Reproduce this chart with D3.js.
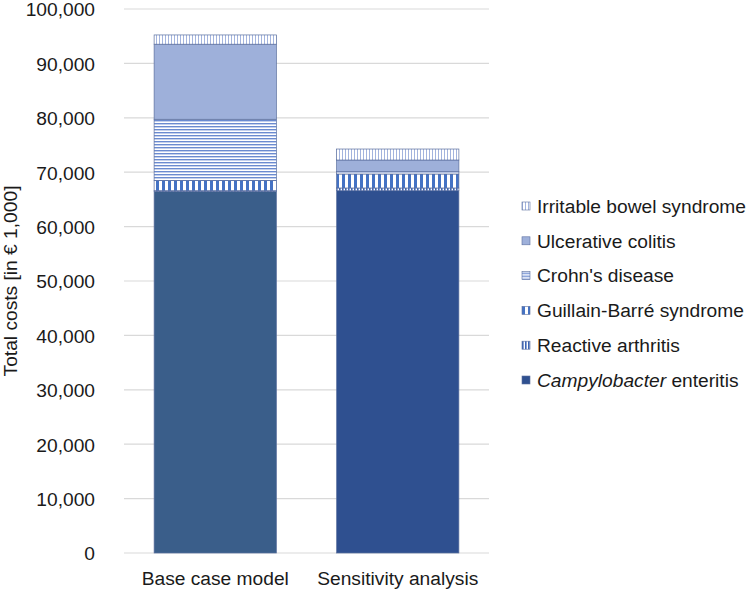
<!DOCTYPE html>
<html>
<head>
<meta charset="utf-8">
<script src="https://cdn.jsdelivr.net/npm/d3@7"></script>
<style>
  body { margin: 0; background: #fff; }
  text { font-family: "Liberation Sans", Arial, sans-serif; fill: #1a1a1a; }
</style>
</head>
<body>
<div id="chart"></div>
<script>
// Categories and series (values in € 1,000)
const scenarios = ["Base case model", "Sensitivity analysis"];
const diseases = ["Campylobacter enteritis", "Reactive arthritis", "Guillain-Barré syndrome",
                  "Crohn's disease", "Ulcerative colitis", "Irritable bowel syndrome"];
const campylobacter = [66500, 66600];
const reactiveArthritis = [100, 500];
const guillainBarre = [1850, 2570];
const crohns = [11280, 420];
const ulcerativeColitis = [13800, 2150];
const ibs = [1700, 2020];
const yTicks = [0, 10000, 20000, 30000, 40000, 50000, 60000, 70000, 80000, 90000, 100000];

const series = [campylobacter, reactiveArthritis, guillainBarre, crohns, ulcerativeColitis, ibs];
const table = scenarios.map((s, i) => {
    const row = {scenario: s};
    diseases.forEach((d, j) => row[d] = series[j][i]);
    return row;
});

// Dimensions
const W = 750, H = 589;
const margin = {top: 9, left: 124, plotRight: 489, bottom: 553};
const fontSize = "19.2px";

const svg = d3.select("#chart").append("svg")
    .attr("width", W)
    .attr("height", H);

// Patterns
const defs = svg.append("defs");
function stripes(id, w, h, bg, rects) {
    const p = defs.append("pattern")
        .attr("id", id)
        .attr("patternUnits", "userSpaceOnUse")
        .attr("width", w)
        .attr("height", h);
    p.append("rect").attr("width", w).attr("height", h).attr("fill", bg);
    rects.forEach(r => p.append("rect")
        .attr("x", r[0]).attr("y", r[1]).attr("width", r[2]).attr("height", r[3]).attr("fill", r[4]));
}
stripes("pRA", 3, 3, "#ffffff", [[0, 0, 1.6, 3, "#3c64b4"]]);
stripes("pGBS", 6, 6, "#ffffff", [[0, 0, 3, 6, "#4472c4"]]);
stripes("pCD", 3, 3, "#ffffff", [[0, 0, 3, 1.4, "#6b8bd0"]]);
stripes("pIBS", 3, 3, "#ffffff", [[0, 0, 1, 3, "#a3b4de"]]);

const fills = {
    "Campylobacter enteritis": "#2f5090",
    "Reactive arthritis": "url(#pRA)",
    "Guillain-Barré syndrome": "url(#pGBS)",
    "Crohn's disease": "url(#pCD)",
    "Ulcerative colitis": "#9eb0da",
    "Irritable bowel syndrome": "url(#pIBS)"
};
const baseCampyColor = "#3a5e8a";

// Scales
const x = d3.scaleBand()
    .domain(scenarios)
    .range([margin.left, margin.plotRight])
    .paddingInner(0.33)
    .paddingOuter(0.165);

const y = d3.scaleLinear()
    .domain([0, 100000])
    .range([margin.bottom, margin.top]);

// Gridlines
svg.append("g")
    .selectAll("line")
    .data(yTicks)
    .enter()
    .append("line")
    .attr("x1", margin.left)
    .attr("x2", margin.plotRight)
    .attr("y1", d => y(d))
    .attr("y2", d => y(d))
    .attr("stroke", "#d9d9d9")
    .attr("stroke-width", 1.2);

// Y axis labels
const yAxis = svg.append("g")
    .attr("transform", `translate(${margin.left},0)`)
    .call(d3.axisLeft(y).tickValues(yTicks).tickFormat(d3.format(",")).tickSize(0).tickPadding(29));
yAxis.select(".domain").remove();
yAxis.selectAll("text")
    .attr("dy", "0.36em")
    .style("font-size", fontSize)
    .style("font-family", "Liberation Sans, Arial, sans-serif")
    .attr("fill", "#1a1a1a");

// Stacked bars
const stack = d3.stack().keys(diseases)(table);

svg.append("g")
    .selectAll("g")
    .data(stack)
    .enter()
    .append("g")
    .selectAll("rect")
    .data(d => d.map(v => ({key: d.key, v: v})))
    .enter()
    .append("rect")
    .attr("x", d => x(d.v.data.scenario))
    .attr("width", x.bandwidth())
    .attr("y", d => y(d.v[1]))
    .attr("height", d => y(d.v[0]) - y(d.v[1]))
    .attr("fill", d => (d.key === diseases[0] && d.v.data.scenario === scenarios[0]) ? baseCampyColor : fills[d.key])
    .attr("stroke", "#5b6f9f")
    .attr("stroke-width", 0.7);

// X axis labels
const xAxis = svg.append("g")
    .attr("transform", `translate(0,${margin.bottom})`)
    .call(d3.axisBottom(x).tickSize(0).tickPadding(18));
xAxis.select(".domain").remove();
xAxis.selectAll("text")
    .style("font-size", fontSize)
    .style("font-family", "Liberation Sans, Arial, sans-serif")
    .attr("fill", "#1a1a1a");

// Y axis title
svg.append("text")
    .attr("transform", "rotate(-90)")
    .attr("x", -(margin.top + margin.bottom) / 2)
    .attr("y", 17)
    .style("text-anchor", "middle")
    .style("font-size", fontSize)
    .text("Total costs [in € 1,000]");

// Legend (reverse order like the source)
const legendItems = diseases.slice().reverse();
const legend = svg.selectAll(".legend")
    .data(legendItems)
    .enter()
    .append("g")
    .attr("class", "legend")
    .attr("transform", (d, i) => `translate(522,${206 + i * 34.8})`);

legend.append("rect")
    .attr("x", 0)
    .attr("y", -4)
    .attr("width", 8)
    .attr("height", 8)
    .attr("fill", d => fills[d])
    .attr("stroke", "#5b6f9f")
    .attr("stroke-width", 0.6);

const lt = legend.append("text")
    .attr("x", 15)
    .attr("y", 0)
    .attr("dy", "0.35em")
    .style("font-size", fontSize);

lt.filter(d => d === "Campylobacter enteritis").each(function() {
    d3.select(this).append("tspan").style("font-style", "italic").text("Campylobacter");
    d3.select(this).append("tspan").text(" enteritis");
});
lt.filter(d => d !== "Campylobacter enteritis").text(d => d);
</script>
</body>
</html>
